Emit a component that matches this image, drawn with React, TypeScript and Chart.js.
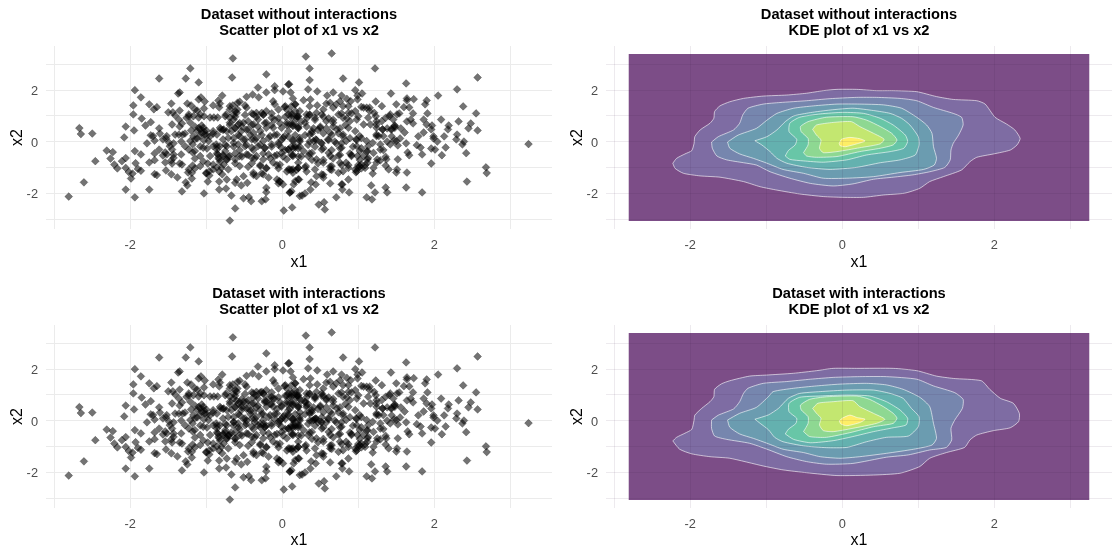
import React, { useEffect, useRef } from "react";
import { Chart, registerables } from "chart.js";

Chart.register(...registerables);

type Pair = number[];

const axisTicks = [-3, -2, -1, 0, 1, 2, 3];
const labelledTicks = [-2, 0, 2];
const xRange = [-3.109, 3.549];
const yRange = [-3.376, 3.709];
const rasterX = [-2.81, 3.25];
const rasterY = [-3.07, 3.4];

const leftTail: Pair[] = [[-2.81,-2.12],[-2.67,0.53],[-2.65,0.3],[-2.5,0.32],[-2.61,-1.57],[-2.46,-0.75],[-2.31,-0.34],[-2.23,-0.4],[-2.26,-0.65],[-2.21,-0.88],[-2.17,-1.03],[-2.11,-0.75],[-2.06,-0.63],[-2.08,0.17],[-2.06,0.59],[-1.96,1.41],[-1.96,1.06],[-1.94,2.0],[-1.95,0.44],[-1.94,-0.36],[-2.06,-1.85],[-1.94,-2.15],[-1.93,-0.83],[-1.97,-1.23],[-1.99,-1.42],[-2.06,-1.01],[-2.02,-1.17],[-1.86,1.72],[-1.85,0.9],[-1.86,-0.49],[-1.9,-1.05],[-1.86,-1.12],[-1.75,1.45],[-1.8,0.63],[-1.73,0.76],[-1.78,-0.06],[-1.75,-0.8],[-1.75,-1.85],[-1.69,1.26],[-1.65,1.34],[-1.62,2.45],[-1.62,0.52],[-1.61,0.32],[-1.73,0.25],[-1.7,0.22],[-1.68,0.05],[-1.68,-0.45],[-1.68,-0.71],[-1.62,-0.3],[-1.68,-1.25],[-1.65,-1.29],[-1.53,-1.11],[-1.57,-0.53],[-1.54,-0.41],[-1.54,-0.8]];

const leftBody: Pair[] = [[-1.5,1.14],[-1.46,1.48],[-1.44,1.14],[-1.45,0.67],[-1.41,1.02],[-1.35,1.21],[-1.36,0.86],[-1.32,0.71],[-1.35,0.59],[-1.37,1.87],[-1.35,1.91],[-1.27,2.45],[-1.21,2.84],[-1.1,2.3],[-1.25,1.48],[-1.2,1.41],[-1.23,1.06],[-1.23,0.98],[-1.12,1.21],[-1.1,1.64],[-1.07,1.72],[-1.02,1.56],[-1.03,1.29],[-1.1,0.94],[-0.91,1.41],[-0.84,1.6],[-0.79,1.79],[-0.82,1.48],[-0.83,1.33],[-0.95,0.94],[-0.9,0.94],[-0.85,0.94],[-0.65,3.23],[-0.66,2.49],[-1.36,0.28],[-1.31,0.28],[-1.28,0.32],[-1.33,0.01],[-1.43,-0.06],[-1.49,-0.03],[-1.53,0.13],[-1.45,-0.3],[-1.43,-0.49],[-1.46,-0.72],[-1.45,-0.84],[-1.33,-0.49],[-1.35,-0.84],[-1.32,-0.88],[-1.46,-1.26],[-1.38,-1.38],[-1.32,-1.92],[-1.27,-1.57],[-1.25,-1.69],[-1.19,-1.42],[-1.24,-1.19],[-1.23,-1.07],[-1.18,-0.92],[-1.15,-1.03],[-1.23,-0.3],[-1.18,-0.41],[-1.15,-0.65],[-1.18,-0.1],[-1.15,0.09],[-1.2,0.44],[-1.15,0.59],[-1.08,0.48],[-1.06,0.63],[-1.03,0.4],[-1.0,0.44],[-0.99,0.25],[-0.91,0.32],[-0.95,0.21],[-1.03,0.05],[-1.08,0.21],[-1.12,0.13],[-1.08,-0.18],[-0.99,-0.26],[-1.04,-0.76],[-0.98,-0.84],[-1.03,-2.0],[-1.0,-1.23],[-0.96,-1.3],[-0.98,-1.54],[-0.91,-1.07],[-0.86,-0.99],[-0.83,-1.15],[-0.83,-1.54],[-0.83,-1.85],[-0.74,-1.81],[-0.73,-1.46],[-0.67,-2.08],[-0.62,-2.58],[-0.69,-3.05],[-0.79,-1.26],[-0.87,-0.1],[-0.86,-0.3],[-0.85,-0.49],[-0.83,-0.68],[-0.77,-0.88],[-0.71,-1.07],[-0.81,0.48],[-0.77,0.48],[-0.74,1.06],[-0.69,1.25],[-0.65,1.41]];

const leftBand: Pair[] = [[-1.08,1.06],[-1.15,1.25],[-1.03,0.99],[-1.1,0.54],[-1.06,0.35],[-1.17,0.22],[-1.21,0.03],[-1.28,-0.17],[-1.43,-0.62],[-1.52,-0.49],[-1.48,-0.17],[-1.57,0.09],[-1.52,0.22],[-1.41,0.28],[-1.21,0.74],[-1.17,0.99],[-1.26,0.93],[-0.91,0.41],[-0.86,0.28],[-0.82,0.54],[-0.75,0.99],[-0.69,0.93],[-0.64,1.06],[-0.59,1.25],[-0.73,0.41],[-0.78,0.09],[-0.71,0.15],[-0.82,-0.17],[-0.84,-0.62],[-0.78,-0.55],[-0.73,-0.68],[-0.8,-1.01],[-0.91,-0.88],[-1.0,-1.2],[-0.96,-1.14],[-1.08,-0.94],[-1.19,-1.2],[-1.08,-0.55],[-1.15,-0.36],[-1.04,-0.23],[-0.95,-0.55],[-0.91,-0.17],[-0.97,0.03],[-1.02,0.28],[-1.04,0.54],[-1.12,0.41]];

const coreLeft: Pair[] = [[-0.56,1.55],[-0.49,1.41],[-0.47,1.74],[-0.39,1.83],[-0.32,2.1],[-0.31,1.72],[-0.21,2.61],[-0.21,1.91],[-0.1,2.15],[-0.1,2.0],[-0.12,1.57],[-0.1,1.45],[0.01,1.95],[0.09,2.23],[0.11,1.91],[0.14,1.68],[0.17,1.45],[0.04,1.38],[0.06,1.25],[-0.05,1.25],[-0.21,1.19],[-0.27,1.12],[-0.34,1.12],[-0.38,1.06],[-0.47,1.32],[-0.59,1.51],[-0.69,1.38],[-0.62,1.19],[-0.6,1.12],[-0.58,0.67],[-0.51,0.74],[-0.45,0.8],[-0.38,0.67],[-0.32,0.86],[-0.25,1.06],[-0.21,0.74],[-0.14,0.93],[-0.1,0.86],[-0.12,0.54],[-0.21,0.54],[-0.29,0.41],[-0.38,0.35],[-0.45,0.48],[-0.54,0.41],[-0.62,0.54],[-0.67,0.41],[-0.69,0.74],[-0.64,0.86],[-0.56,0.22],[-0.49,0.09],[-0.4,0.09],[-0.34,0.15],[-0.25,0.03],[-0.16,0.22],[-0.07,0.28],[-0.01,0.54],[0.06,0.74],[0.12,0.93],[0.21,0.99],[0.14,0.61],[0.08,0.41],[0.01,0.15],[-0.05,-0.04],[-0.14,-0.1],[-0.23,-0.23],[-0.32,-0.17],[-0.4,-0.23],[-0.49,-0.17],[-0.58,-0.1],[-0.64,-0.04],[-0.73,-0.17],[-0.75,-0.36],[-0.69,-0.55],[-0.62,-0.68],[-0.56,-0.55],[-0.47,-0.49],[-0.4,-0.62],[-0.34,-0.55],[-0.25,-0.68],[-0.18,-0.49],[-0.1,-0.55],[-0.01,-0.43],[0.08,-0.3],[0.17,-0.17],[0.14,-0.55],[0.06,-0.68],[-0.03,-0.88],[-0.12,-0.81],[-0.21,-1.01],[-0.29,-0.94],[-0.38,-1.2],[-0.34,-1.33],[-0.25,-1.26],[-0.18,-1.39],[-0.07,-1.46],[-0.04,-1.52],[0.01,-1.65],[0.08,-1.07],[0.14,-1.2],[0.21,-1.01],[0.17,-1.52],[0.21,-1.46],[0.1,-1.97],[0.12,-1.91],[0.23,-2.1],[-0.21,-1.78],[-0.21,-1.95],[-0.22,-2.23],[-0.27,-2.3],[-0.41,-2.3],[-0.44,-2.14],[-0.51,-2.19],[-0.54,-1.69],[-0.62,-1.59],[-0.6,-1.46],[-0.46,-1.59],[-0.56,-0.94],[-0.45,-0.97],[-0.51,-1.33]];

const coreLeftDense: Pair[] = [[-0.62,0.97],[-0.56,0.72],[-0.49,1.04],[-0.4,1.1],[-0.34,0.97],[-0.25,1.04],[-0.14,1.1],[-0.05,0.91],[0.04,0.97],[0.12,1.1],[0.2,0.97],[-0.69,0.65],[-0.62,0.52],[-0.78,0.46],[-0.53,0.59],[-0.47,0.46],[-0.4,0.65],[-0.32,0.59],[-0.23,0.72],[-0.14,0.65],[-0.03,0.72],[0.06,0.65],[0.15,0.72],[0.21,0.59],[-0.64,0.14],[-0.58,0.26],[-0.51,0.07],[-0.42,0.26],[-0.36,0.07],[-0.27,0.26],[-0.18,0.14],[-0.1,0.26],[-0.01,0.07],[0.08,0.2],[0.17,0.26],[0.23,0.07],[-0.86,-0.19],[-0.75,-0.12],[-0.64,-0.19],[-0.56,-0.32],[-0.47,-0.12],[-0.38,-0.32],[-0.29,-0.12],[-0.23,-0.25],[-0.14,-0.19],[-0.05,-0.12],[0.04,-0.32],[0.12,-0.19],[0.21,-0.25],[-0.86,-0.45],[-0.78,-0.51],[-0.71,-0.57],[-0.62,-0.45],[-0.53,-0.57],[-0.45,-0.51],[-0.36,-0.64],[-0.25,-0.45],[-0.16,-0.64],[-0.07,-0.51],[0.01,-0.57],[0.12,-0.51],[0.21,-0.57],[-0.82,-0.77],[-0.73,-0.7],[-0.62,-0.83],[-0.4,-0.83],[-0.29,-0.9],[-0.21,-1.03],[-0.07,-0.9],[-0.05,-1.03],[0.06,-1.15],[0.12,-1.09],[-0.38,-1.28],[-0.27,-1.22],[-0.03,-1.54],[-0.05,-1.61]];

const coreRight: Pair[] = [[0.03,1.35],[0.17,1.45],[0.28,1.61],[0.37,1.64],[0.36,1.38],[0.46,1.41],[0.58,1.48],[0.63,1.51],[0.71,1.45],[0.76,1.57],[0.85,1.66],[0.78,1.79],[0.9,1.57],[1.04,1.35],[1.11,1.32],[1.15,1.32],[1.21,1.12],[1.31,1.38],[1.23,0.99],[1.24,0.8],[1.36,0.93],[1.41,0.99],[1.48,0.61],[1.44,0.48],[0.08,1.06],[0.19,0.99],[0.32,1.06],[0.43,0.93],[0.52,1.06],[0.58,0.8],[0.67,0.74],[0.74,1.06],[0.8,0.93],[0.87,1.12],[0.89,0.8],[0.98,0.86],[1.07,0.67],[1.13,0.93],[1.16,0.67],[1.24,0.54],[1.32,0.48],[1.24,0.28],[1.27,0.22],[0.1,0.67],[0.21,0.54],[0.3,0.74],[0.39,0.41],[0.5,0.54],[0.63,0.35],[0.72,0.48],[0.8,0.28],[0.87,0.54],[0.96,0.41],[1.02,0.22],[1.11,0.03],[1.19,-0.04],[1.29,-0.3],[1.33,-0.32],[1.13,-0.17],[0.03,0.22],[0.14,0.03],[0.23,0.15],[0.36,0.28],[0.41,0.03],[0.44,0.09],[0.51,-0.04],[0.6,0.09],[0.71,-0.06],[0.78,-0.23],[0.84,0.03],[0.97,0.09],[0.98,-0.17],[1.02,-0.36],[1.12,-0.36],[-0.01,-0.23],[0.08,-0.3],[0.17,-0.23],[0.28,-0.36],[0.39,-0.43],[0.52,-0.3],[0.61,-0.43],[0.74,-0.53],[0.89,-0.45],[0.91,-0.55],[0.99,-0.55],[1.13,-0.62],[1.12,-0.81],[1.09,-1.01],[1.04,-0.88],[0.98,-1.14],[1.02,-0.94],[1.25,-0.68],[1.29,-0.72],[1.36,-0.58],[1.36,-0.92],[1.4,-1.07],[1.19,-1.23],[0.1,-1.07],[0.21,-1.01],[0.31,-0.94],[0.43,-1.07],[0.54,-0.81],[0.65,-0.94],[0.76,-0.81],[0.84,-0.81],[0.63,-1.07],[0.52,-1.26],[0.8,-1.14],[0.87,-1.46],[0.78,-1.65],[0.63,-1.61]];

const coreRightDense: Pair[] = [[0.12,1.04],[0.19,0.91],[0.25,0.78],[0.14,0.65],[0.21,0.52],[0.32,0.91],[0.36,1.04],[0.43,0.85],[0.54,0.97],[0.61,0.91],[0.67,0.85],[0.78,1.1],[0.85,0.91],[0.91,1.1],[0.32,0.59],[0.41,0.52],[0.5,0.59],[0.58,0.52],[0.67,0.59],[0.76,0.52],[0.83,0.65],[0.3,0.26],[0.39,0.33],[0.47,0.46],[0.54,0.33],[0.65,0.26],[0.74,0.33],[0.8,0.2],[0.89,0.14],[0.98,0.07],[1.04,0.14],[0.14,0.07],[0.23,0.01],[0.36,0.01],[0.45,0.07],[0.52,-0.06],[0.61,0.07],[0.69,0.01],[0.78,-0.06],[0.14,-0.25],[0.23,-0.19],[0.34,-0.12],[0.43,-0.19],[0.54,-0.25],[0.65,-0.32],[0.76,-0.25],[0.93,-0.19],[1.04,-0.25],[1.11,-0.38],[0.14,-0.51],[0.25,-0.57],[0.36,-0.45],[0.39,-0.7],[0.47,-0.83],[0.54,-0.7],[0.67,-0.64],[0.76,-0.51],[0.91,-0.51],[1.02,-0.7],[1.09,-0.9],[1.0,-0.9],[1.04,-1.03],[0.97,-1.18],[0.3,-1.0],[0.32,-1.15],[0.19,-1.09],[0.63,-0.96],[0.65,-1.09],[0.54,-1.28],[0.78,-0.9],[0.87,-0.9]];

const rightBand: Pair[] = [[0.96,-1.07],[1.0,-1.01],[1.12,-0.68],[1.07,-0.55],[1.2,-0.43],[1.29,-0.1],[1.24,0.22],[1.33,0.22],[1.42,-0.1],[1.5,0.03],[1.48,0.54],[1.46,0.86],[1.42,1.06],[1.31,0.8],[1.24,0.67],[1.15,1.19],[1.07,1.32],[1.0,0.99],[0.96,1.19],[0.87,1.38],[0.8,1.38],[0.67,1.32],[0.54,1.25],[0.45,1.12],[0.36,1.06],[0.23,1.19],[0.17,1.19],[0.12,1.38],[0.45,-1.33],[0.54,-1.39],[0.74,-1.2],[0.87,-1.01],[0.63,-0.55],[0.45,-0.68],[0.34,-0.55],[0.21,-0.81],[0.14,-1.07],[1.2,-1.01],[1.24,-0.81],[1.37,-0.68]];

const interactionExtras: Pair[] = [[-0.6,0.78],[-0.53,0.85],[-0.47,0.72],[-0.18,0.91],[-0.12,0.85],[-0.23,0.78],[-0.16,0.65],[0.06,0.97],[0.1,0.91],[0.17,1.04],[0.23,0.85],[0.3,0.72],[0.34,0.65],[0.43,0.91],[0.52,0.97],[0.58,0.85],[0.36,0.33],[0.43,0.07],[0.47,-0.06],[0.39,0.01],[0.52,0.14],[0.58,-0.06],[0.17,-0.06],[0.21,-0.19],[0.12,-0.25],[0.14,0.07],[0.08,0.26],[-0.25,-0.12],[-0.29,-0.25],[-0.21,-0.19],[-0.71,-0.57],[-0.75,-0.45],[-0.67,-0.45],[-0.62,-0.7],[-0.53,0.52],[-0.42,0.39],[-0.34,0.52],[-0.07,0.46],[-0.01,0.59],[-0.03,0.01],[0.04,0.07],[-0.1,0.07],[-0.47,0.01],[-0.36,-0.06],[-0.64,-0.06],[-0.58,-0.25],[0.32,0.52],[0.23,0.33],[0.1,0.46],[-0.25,0.26],[-0.38,0.91],[-0.29,1.1]];

const rightBody: Pair[] = [[1.67,-0.52],[1.65,-0.41],[1.52,-0.68],[1.63,-0.06],[1.52,-0.14],[1.47,0.05],[1.44,0.21],[1.55,0.13],[1.61,0.36],[1.72,0.71],[1.69,0.86],[1.56,0.52],[1.64,0.79],[1.48,0.63],[1.43,0.48],[1.38,0.01],[1.38,0.52],[1.32,0.48],[1.36,-1.77],[1.38,-1.96],[1.22,-1.96],[1.11,-2.15],[1.18,-2.23],[1.17,-1.69],[0.71,-2.15],[0.88,-1.96],[0.79,-1.85],[0.79,-1.65],[0.48,-2.43],[0.55,-2.34],[0.56,-2.62],[0.13,-2.54],[0.02,-2.66],[0.26,-2.08],[0.3,-2.0],[0.37,-1.85],[0.44,-1.65],[0.38,-1.57],[0.15,-1.65],[0.1,-1.96],[0.22,-1.46]];

const rightTail: Pair[] = [[3.24,-0.09],[2.57,2.49],[2.3,2.03],[2.68,-0.99],[2.69,-1.21],[2.43,-1.54],[2.42,-0.44],[2.37,-0.1],[2.39,0.01],[2.55,1.1],[2.38,1.37],[2.48,0.71],[2.45,0.52],[2.57,0.44],[2.32,0.79],[2.19,0.63],[2.18,0.48],[2.3,0.28],[2.29,0.09],[2.13,0.21],[2.09,0.86],[2.05,1.79],[1.9,1.6],[1.88,1.45],[1.73,1.65],[1.64,1.68],[1.64,1.6],[1.63,2.26],[1.43,1.87],[1.22,2.84],[1.01,2.3],[0.8,2.45],[0.65,3.42],[0.31,3.3],[0.36,2.84],[0.36,2.39],[0.08,2.22],[0.34,2.03],[0.46,1.95],[0.59,1.79],[0.67,1.91],[0.96,2.0],[1.05,1.87],[0.99,1.79],[0.99,1.64],[1.23,1.56],[1.5,1.45],[1.6,1.34],[1.67,1.33],[1.72,1.1],[1.51,1.06],[1.54,1.1],[1.91,1.1],[1.86,0.86],[1.9,0.67],[1.97,0.63],[1.96,0.48],[1.86,0.36],[1.79,0.21],[1.99,0.21],[1.99,0.13],[2.04,0.01],[1.96,-0.26],[2.01,-0.3],[1.77,-0.13],[1.82,-0.22],[1.84,-0.49],[1.96,-0.84],[2.1,-0.52],[2.15,-0.22],[1.84,-1.96],[1.63,-1.77],[1.64,-1.19],[1.51,-1.07],[1.5,-1.19]];

const topRing1: Pair[] = [[-2.23,-0.83],[-2.18,-0.64],[-2.07,-0.47],[-1.98,-0.34],[-1.95,-0.06],[-1.94,0.2],[-1.87,0.46],[-1.74,0.72],[-1.69,0.91],[-1.68,1.17],[-1.61,1.39],[-1.48,1.55],[-1.3,1.68],[-1.04,1.77],[-0.73,1.81],[-0.47,1.88],[-0.25,1.98],[-0.07,2.03],[0.19,2.03],[0.45,1.98],[0.67,1.98],[0.98,1.94],[1.24,1.75],[1.46,1.64],[1.77,1.59],[1.88,1.46],[2.01,0.95],[2.16,0.69],[2.27,0.46],[2.34,0.13],[2.3,-0.12],[2.21,-0.32],[1.99,-0.47],[1.77,-0.6],[1.68,-0.77],[1.57,-1.09],[1.33,-1.35],[1.15,-1.54],[1.02,-1.8],[0.82,-1.99],[0.54,-2.06],[0.28,-2.15],[0.01,-2.15],[-0.25,-2.12],[-0.56,-2.02],[-0.86,-1.87],[-1.08,-1.74],[-1.3,-1.54],[-1.61,-1.37],[-1.87,-1.32],[-2.09,-1.22],[-2.2,-1.03]];
const topRing2: Pair[] = [[-1.72,-0.01],[-1.63,0.2],[-1.43,0.46],[-1.35,0.72],[-1.31,1.04],[-1.24,1.3],[-1.04,1.46],[-0.82,1.52],[-0.47,1.59],[-0.16,1.67],[0.19,1.72],[0.45,1.72],[0.76,1.68],[0.98,1.59],[1.2,1.33],[1.46,1.1],[1.57,0.95],[1.59,0.65],[1.53,0.26],[1.46,-0.06],[1.43,-0.32],[1.42,-0.7],[1.35,-0.99],[1.15,-1.16],[0.93,-1.28],[0.67,-1.37],[0.41,-1.45],[0.14,-1.63],[-0.12,-1.71],[-0.42,-1.61],[-0.69,-1.41],[-0.95,-1.16],[-1.13,-0.9],[-1.3,-0.81],[-1.52,-0.7],[-1.65,-0.55],[-1.71,-0.25]];
const topRing3: Pair[] = [[-1.51,-0.01],[-1.37,0.26],[-1.13,0.52],[-0.99,0.84],[-0.86,1.1],[-0.64,1.3],[-0.38,1.39],[-0.07,1.46],[0.23,1.46],[0.54,1.43],[0.78,1.3],[0.98,0.95],[1.11,0.65],[1.18,0.33],[1.2,-0.19],[1.24,-0.64],[1.21,-0.9],[1.07,-1.07],[0.76,-1.19],[0.41,-1.35],[0.06,-1.41],[-0.25,-1.41],[-0.51,-1.22],[-0.78,-1.07],[-0.99,-0.83],[-1.17,-0.64],[-1.35,-0.47],[-1.48,-0.25]];
const topRing4: Pair[] = [[-1.15,0.04],[-0.99,0.2],[-0.86,0.46],[-0.75,0.78],[-0.64,1.0],[-0.42,1.13],[-0.16,1.23],[0.14,1.3],[0.41,1.21],[0.63,1.1],[0.78,0.91],[0.89,0.65],[1.0,0.2],[1.01,-0.12],[0.96,-0.51],[0.76,-0.7],[0.5,-0.81],[0.19,-0.99],[-0.16,-1.07],[-0.47,-0.99],[-0.73,-0.83],[-0.86,-0.64],[-0.95,-0.38],[-1.06,-0.12]];
const topRing5: Pair[] = [[-0.75,-0.55],[-0.71,-0.34],[-0.62,-0.12],[-0.6,0.1],[-0.7,0.39],[-0.69,0.72],[-0.56,0.95],[-0.29,1.08],[0.01,1.14],[0.28,1.1],[0.5,0.91],[0.67,0.65],[0.83,0.26],[0.86,0.01],[0.81,-0.25],[0.63,-0.38],[0.32,-0.51],[0.06,-0.7],[-0.25,-0.79],[-0.51,-0.74],[-0.69,-0.68]];
const topRing6: Pair[] = [[-0.51,-0.42],[-0.45,-0.12],[-0.45,0.13],[-0.54,0.39],[-0.55,0.59],[-0.45,0.78],[-0.21,0.95],[0.14,0.97],[0.32,0.84],[0.5,0.59],[0.65,0.33],[0.72,0.07],[0.67,-0.12],[0.5,-0.25],[0.23,-0.38],[-0.07,-0.57],[-0.34,-0.6],[-0.47,-0.55]];
const topRing7: Pair[] = [[-0.39,0.48],[-0.34,0.65],[-0.12,0.75],[0.12,0.78],[0.23,0.59],[0.41,0.33],[0.55,0.1],[0.5,-0.08],[0.23,-0.23],[-0.07,-0.38],[-0.25,-0.42],[-0.3,-0.25],[-0.28,0.07],[-0.34,0.26]];
const topRing8: Pair[] = [[-0.04,-0.06],[-0.01,0.1],[0.1,0.17],[0.23,0.12],[0.3,0.03],[0.19,-0.08],[0.04,-0.19],[-0.03,-0.15]];

const bottomRing1: Pair[] = [[-2.23,-0.78],[-2.18,-0.64],[-2.07,-0.48],[-1.98,-0.33],[-1.95,0.03],[-1.94,0.22],[-1.85,0.48],[-1.74,0.74],[-1.69,0.93],[-1.68,1.22],[-1.59,1.43],[-1.48,1.55],[-1.22,1.73],[-1.0,1.77],[-0.64,1.84],[-0.34,1.94],[-0.12,2.03],[0.19,2.03],[0.67,2.03],[0.98,1.94],[1.24,1.73],[1.46,1.64],[1.83,1.55],[1.94,1.22],[2.08,0.87],[2.25,0.68],[2.33,0.29],[2.32,-0.03],[2.21,-0.27],[1.99,-0.38],[1.77,-0.55],[1.68,-0.74],[1.61,-1.03],[1.37,-1.23],[1.15,-1.45],[1.02,-1.77],[0.76,-2.03],[0.41,-2.1],[-0.07,-2.12],[-0.47,-2.01],[-0.78,-1.9],[-1.04,-1.75],[-1.48,-1.45],[-1.74,-1.39],[-1.98,-1.28],[-2.14,-1.1]];
const bottomRing2: Pair[] = [[-1.72,0.03],[-1.63,0.22],[-1.43,0.46],[-1.35,0.74],[-1.3,1.06],[-1.24,1.26],[-1.04,1.45],[-0.73,1.52],[-0.42,1.61],[-0.12,1.68],[0.23,1.71],[0.58,1.71],[0.98,1.61],[1.2,1.35],[1.48,1.09],[1.59,0.83],[1.58,0.48],[1.48,0.03],[1.43,-0.29],[1.44,-0.74],[1.37,-1.03],[1.15,-1.13],[0.87,-1.32],[0.58,-1.41],[0.14,-1.65],[-0.21,-1.68],[-0.47,-1.58],[-0.73,-1.39],[-0.99,-1.1],[-1.22,-0.87],[-1.52,-0.72],[-1.68,-0.59],[-1.72,-0.29]];
const bottomRing3: Pair[] = [[-1.51,0.03],[-1.35,0.29],[-1.13,0.52],[-0.97,0.94],[-0.91,1.13],[-0.64,1.26],[-0.34,1.35],[-0.03,1.42],[0.32,1.45],[0.58,1.39],[0.8,1.22],[1.02,0.91],[1.15,0.55],[1.2,-0.1],[1.24,-0.68],[1.18,-0.94],[0.94,-1.1],[0.58,-1.26],[0.23,-1.39],[-0.03,-1.45],[-0.29,-1.39],[-0.51,-1.23],[-0.78,-1.1],[-0.99,-0.87],[-1.17,-0.68],[-1.35,-0.51],[-1.48,-0.25]];
const bottomRing4: Pair[] = [[-1.15,0.06],[-0.97,0.23],[-0.84,0.48],[-0.71,0.87],[-0.56,1.06],[-0.29,1.13],[0.06,1.19],[0.41,1.19],[0.63,1.06],[0.8,0.87],[0.91,0.48],[1.01,0.16],[1.0,-0.23],[0.87,-0.59],[0.58,-0.64],[0.32,-0.81],[0.06,-1.03],[-0.21,-1.04],[-0.51,-0.97],[-0.78,-0.81],[-0.89,-0.64],[-0.97,-0.35],[-1.08,-0.1]];
const bottomRing5: Pair[] = [[-0.75,-0.51],[-0.71,-0.33],[-0.61,-0.1],[-0.6,0.1],[-0.7,0.35],[-0.7,0.68],[-0.56,0.91],[-0.29,0.96],[0.06,1.0],[0.36,0.96],[0.58,0.74],[0.76,0.42],[0.86,0.1],[0.84,-0.16],[0.67,-0.27],[0.41,-0.42],[0.14,-0.61],[-0.12,-0.77],[-0.42,-0.85],[-0.64,-0.72]];
const bottomRing6: Pair[] = [[-0.51,-0.42],[-0.45,-0.1],[-0.45,0.16],[-0.54,0.42],[-0.55,0.61],[-0.43,0.83],[-0.21,0.93],[0.19,0.96],[0.36,0.83],[0.54,0.55],[0.67,0.29],[0.72,0.1],[0.67,-0.1],[0.41,-0.23],[0.1,-0.46],[-0.21,-0.64],[-0.43,-0.61]];
const bottomRing7: Pair[] = [[-0.39,0.48],[-0.32,0.68],[-0.12,0.74],[0.14,0.78],[0.23,0.55],[0.41,0.29],[0.56,0.06],[0.45,-0.1],[0.14,-0.29],[-0.12,-0.42],[-0.25,-0.38],[-0.3,-0.16],[-0.28,0.1],[-0.34,0.29]];
const bottomRing8: Pair[] = [[-0.04,0.0],[0.0,0.1],[0.1,0.22],[0.19,0.13],[0.3,0.06],[0.23,-0.07],[0.06,-0.19],[-0.02,-0.12]];

const scatterPoints = [...leftTail, ...leftBody, ...leftBand, ...coreLeft, ...coreLeftDense, ...coreRight, ...coreRightDense, ...rightBand, ...rightBody, ...rightTail];
const interactionPoints = [...scatterPoints, ...interactionExtras];
const topRings = [topRing1, topRing2, topRing3, topRing4, topRing5, topRing6, topRing7, topRing8];
const bottomRings = [bottomRing1, bottomRing2, bottomRing3, bottomRing4, bottomRing5, bottomRing6, bottomRing7, bottomRing8];
const bandColors = ["#7e6ca3", "#7686ae", "#6b9cb0", "#64b1af", "#68c6a7", "#8ed892", "#c3e770", "#feee66"];
const rasterColor = "#7c4d87";

const toXY = (p: Pair) => ({ x: p[0], y: p[1] });

function scatterDatasets(points: Pair[]) {
  return [{
    data: points.map(toXY),
    pointStyle: "rectRot",
    pointRadius: 3.9,
    pointBackgroundColor: "rgba(0,0,0,0.55)",
    pointBorderColor: "rgba(0,0,0,0.4)",
    pointBorderWidth: 0.7,
    showLine: false,
  }];
}

function kdeDatasets(rings: Pair[][]) {
  const bands = rings.map((r, i) => ({
    data: [...r, r[0]].map(toXY),
    showLine: true,
    fill: "shape",
    tension: 0.2,
    backgroundColor: bandColors[i],
    borderColor: "rgba(255,255,255,0.6)",
    borderWidth: 1,
    pointRadius: 0,
  }));
  const raster = {
    data: [
      { x: rasterX[0], y: rasterY[0] },
      { x: rasterX[1], y: rasterY[0] },
      { x: rasterX[1], y: rasterY[1] },
      { x: rasterX[0], y: rasterY[1] },
    ],
    showLine: true,
    fill: "shape",
    tension: 0,
    backgroundColor: rasterColor,
    borderWidth: 0,
    pointRadius: 0,
  };
  return [...bands.reverse(), raster];
}

function makeOptions(title: string[], boxHeight: number, overlayGrid: boolean): any {
  const gridColor = overlayGrid ? "rgba(60,20,70,0.09)" : "#ebebeb";
  const grid = { color: gridColor, lineWidth: 1, drawTicks: false, z: overlayGrid ? 1 : -1 };
  const ticks = {
    autoSkip: false,
    maxRotation: 0,
    color: "#4d4d4d",
    font: { size: 12.8 },
    callback: (v: number) => (labelledTicks.includes(v) ? String(v) : ""),
  };
  const setTicks = (s: any) => {
    s.ticks = axisTicks.map((value) => ({ value }));
  };
  return {
    responsive: false,
    animation: false,
    events: [],
    layout: { padding: { right: 8 } },
    plugins: {
      legend: { display: false },
      tooltip: { enabled: false },
      title: {
        display: true,
        text: title,
        fullSize: false,
        color: "#000000",
        font: { size: 14.67, weight: "bold", lineHeight: 1.07 },
        padding: { top: 7.6, bottom: 7 },
      },
    },
    scales: {
      x: {
        type: "linear",
        min: xRange[0],
        max: xRange[1],
        border: { display: false },
        grid,
        ticks: { ...ticks, padding: 9 },
        title: { display: true, text: "x1", color: "#000000", font: { size: 16 }, padding: { top: 0, bottom: 6.5 } },
        afterBuildTicks: setTicks,
        afterFit: (s: any) => {
          s.height = boxHeight;
        },
      },
      y: {
        type: "linear",
        min: yRange[0],
        max: yRange[1],
        border: { display: false },
        grid,
        ticks: { ...ticks, padding: 8, labelOffset: 1.5 },
        title: { display: true, text: "x2", color: "#000000", font: { size: 16 }, padding: { top: 8, bottom: 0 } },
        afterBuildTicks: setTicks,
        afterFit: (s: any) => {
          s.width = 46;
        },
      },
    },
  };
}

function Panel(props: { left: number; top: number; height: number; title: string[]; points?: Pair[]; rings?: Pair[][] }) {
  const ref = useRef<HTMLCanvasElement>(null);
  useEffect(() => {
    Chart.defaults.font.family = '"Liberation Sans", Arial, sans-serif';
    const isKde = !!props.rings;
    const chart = new Chart(ref.current as HTMLCanvasElement, {
      type: "scatter",
      data: { datasets: (isKde ? kdeDatasets(props.rings as Pair[][]) : scatterDatasets(props.points as Pair[])) as any },
      options: makeOptions(props.title, props.height - 229, isKde),
    });
    return () => chart.destroy();
  }, []);
  return (
    <canvas
      ref={ref}
      width={560}
      height={props.height}
      style={{ position: "absolute", left: props.left, top: props.top, width: 560, height: props.height, display: "block" }}
    />
  );
}

export default function App() {
  return (
    <div style={{ position: "absolute", left: 0, top: 0, width: 1120, height: 557, background: "#ffffff", overflow: "hidden" }}>
      <Panel left={0} top={0} height={279} points={scatterPoints} title={["Dataset without interactions", "Scatter plot of x1 vs x2"]} />
      <Panel left={560} top={0} height={279} rings={topRings} title={["Dataset without interactions", "KDE plot of x1 vs x2"]} />
      <Panel left={0} top={279} height={278} points={interactionPoints} title={["Dataset with interactions", "Scatter plot of x1 vs x2"]} />
      <Panel left={560} top={279} height={278} rings={bottomRings} title={["Dataset with interactions", "KDE plot of x1 vs x2"]} />
    </div>
  );
}
